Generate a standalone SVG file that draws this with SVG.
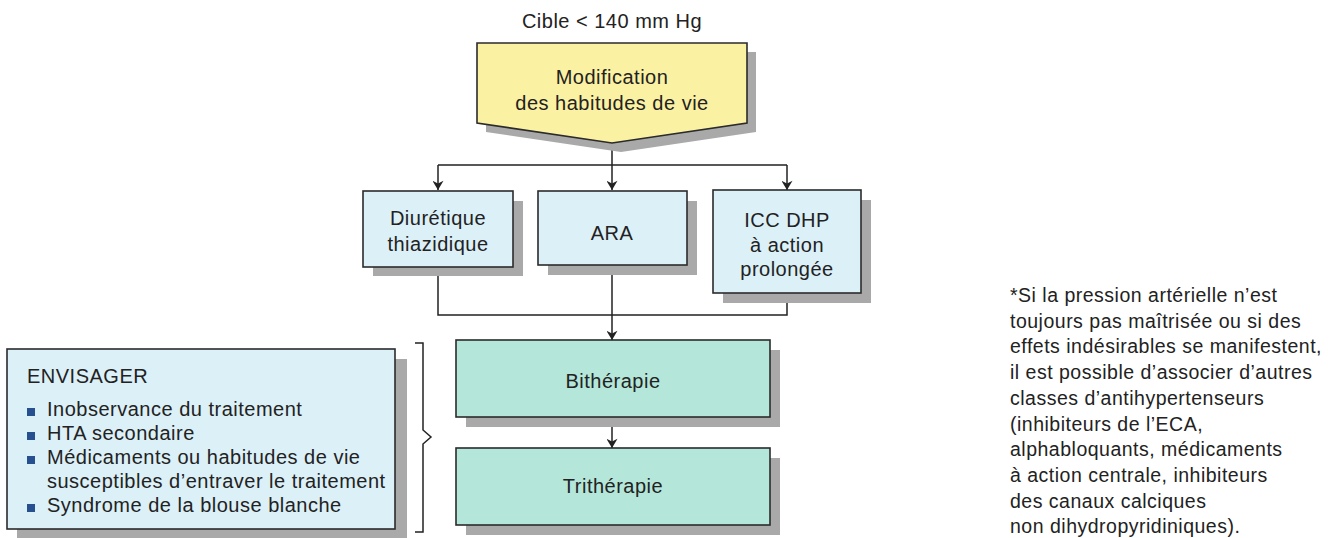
<svg xmlns="http://www.w3.org/2000/svg" width="1344" height="538" viewBox="0 0 1344 538">
  <defs>
    <style>
      text { font-family: "Liberation Sans", Arial, Helvetica, sans-serif; font-size: 20px; letter-spacing: 0.5px; fill: #222; }
      .c { text-anchor: middle; }
      .shadow { fill: #a9a9a9; }
      .box { stroke: #2b2b2b; stroke-width: 1.6; }
      .yellow { fill: #fbf1a3; }
      .blue { fill: #dcf0f8; }
      .teal { fill: #b4e7da; }
      .line { fill: none; stroke: #222; stroke-width: 1.5; }
      .bullet { fill: #26508f; }
      .note { font-size: 19.5px; letter-spacing: 0.5px; }
    </style>
    <marker id="arrow" viewBox="0 0 10 12" refX="10" refY="6" markerWidth="12" markerHeight="11" markerUnits="userSpaceOnUse" orient="auto">
      <path d="M0,0 L10,6 L0,12 L3,6 Z" fill="#222"/>
    </marker>
  </defs>

  <rect width="1344" height="538" fill="#ffffff"/>

  <!-- target -->
  <text class="c" x="612" y="28">Cible &lt; 140 mm Hg</text>

  <!-- connectors -->
  <g id="connectors">
    <path class="line" d="M612,143 V165 M438,165 H787"/>
    <path class="line" d="M438,165 V190" marker-end="url(#arrow)"/>
    <path class="line" d="M612,165 V190" marker-end="url(#arrow)"/>
    <path class="line" d="M787,165 V190" marker-end="url(#arrow)"/>
    <path class="line" d="M438,267 V315 H787 V293"/>
    <path class="line" d="M612,265 V340" marker-end="url(#arrow)"/>
    <path class="line" d="M612,417 V448" marker-end="url(#arrow)"/>
  </g>

  <!-- lifestyle changes -->
  <g id="lifestyle">
    <polygon class="shadow" points="486,52 756,52 756,132 621,152 486,132"/>
    <polygon class="box yellow" points="477,43 747,43 747,123 612,143 477,123"/>
    <text class="c" x="612" y="84">Modification</text>
    <text class="c" x="612" y="110">des habitudes de vie</text>
  </g>

  <!-- first-line drugs -->
  <g id="diuretique">
    <rect class="shadow" x="373" y="201" width="150" height="75"/>
    <rect class="box blue" x="363" y="191" width="150" height="76"/>
    <text class="c" x="438" y="225">Diurétique</text>
    <text class="c" x="438" y="251">thiazidique</text>
  </g>

  <g id="ara">
    <rect class="shadow" x="548" y="201" width="149" height="74"/>
    <rect class="box blue" x="538" y="191" width="149" height="74"/>
    <text class="c" x="612" y="240">ARA</text>
  </g>

  <g id="icc">
    <rect class="shadow" x="723" y="200" width="148" height="103"/>
    <rect class="box blue" x="713" y="190" width="148" height="103"/>
    <text class="c" x="787" y="227">ICC DHP</text>
    <text class="c" x="787" y="252">à action</text>
    <text class="c" x="787" y="276">prolongée</text>
  </g>

  <!-- combination therapy -->
  <g id="bitherapie">
    <rect class="shadow" x="466" y="350" width="314" height="77"/>
    <rect class="box teal" x="456" y="340" width="314" height="77"/>
    <text class="c" x="613" y="388">Bithérapie</text>
  </g>

  <g id="tritherapie">
    <rect class="shadow" x="466" y="458" width="314" height="77"/>
    <rect class="box teal" x="456" y="448" width="314" height="77"/>
    <text class="c" x="613" y="493">Trithérapie</text>
  </g>

  <!-- things to consider -->
  <g id="envisager">
    <rect class="shadow" x="17" y="359" width="390" height="180"/>
    <rect class="box blue" x="7" y="349" width="388" height="180"/>
    <text x="27" y="383">ENVISAGER</text>
    <rect class="bullet" x="27" y="408" width="8" height="8"/>
    <text x="47" y="416">Inobservance du traitement</text>
    <rect class="bullet" x="27" y="432" width="8" height="8"/>
    <text x="47" y="440">HTA secondaire</text>
    <rect class="bullet" x="27" y="456" width="8" height="8"/>
    <text x="47" y="464">Médicaments ou habitudes de vie</text>
    <text x="47" y="488">susceptibles d’entraver le traitement</text>
    <rect class="bullet" x="27" y="504" width="8" height="8"/>
    <text x="47" y="512">Syndrome de la blouse blanche</text>
  </g>

  <!-- brace -->
  <g id="brace">
    <path class="line" stroke-width="2" d="M415,343 H423 V430 L431,437 L423,444 V532 H415"/>
  </g>

  <!-- footnote -->
  <g id="note">
    <text class="note" x="1010" y="302">*Si la pression artérielle n’est</text>
    <text class="note" x="1010" y="327.7">toujours pas maîtrisée ou si des</text>
    <text class="note" x="1010" y="353.4">effets indésirables se manifestent,</text>
    <text class="note" x="1010" y="379.1">il est possible d’associer d’autres</text>
    <text class="note" x="1010" y="404.8">classes d’antihypertenseurs</text>
    <text class="note" x="1010" y="430.5">(inhibiteurs de l’ECA,</text>
    <text class="note" x="1010" y="456.2">alphabloquants, médicaments</text>
    <text class="note" x="1010" y="481.9">à action centrale, inhibiteurs</text>
    <text class="note" x="1010" y="507.6">des canaux calciques</text>
    <text class="note" x="1010" y="533.3">non dihydropyridiniques).</text>
  </g>
</svg>
